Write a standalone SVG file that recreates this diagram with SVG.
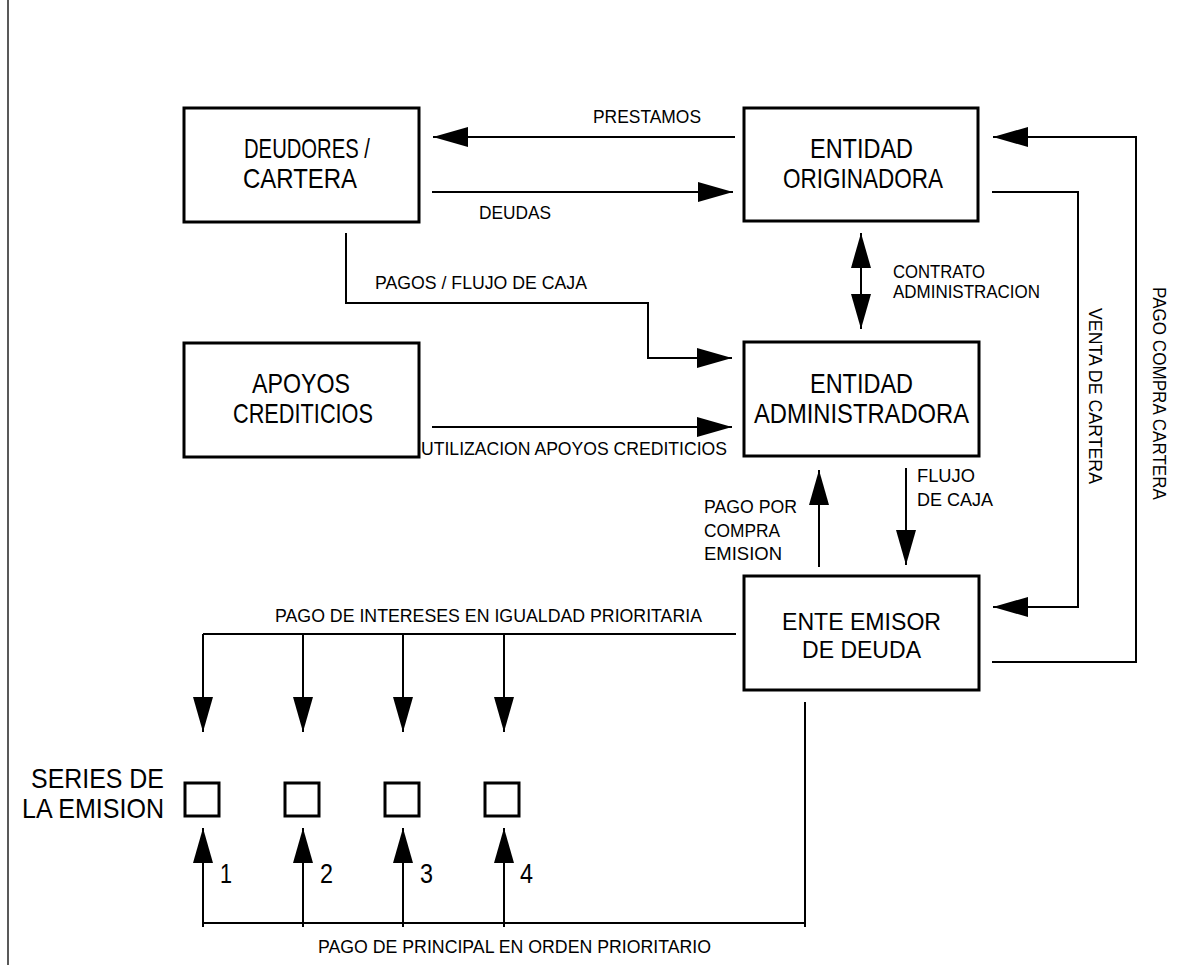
<svg xmlns="http://www.w3.org/2000/svg" width="1182" height="965" viewBox="0 0 1182 965">
<style>
.box{fill:#fff;stroke:#000;stroke-width:3}
.ln{fill:none;stroke:#000;stroke-width:2}
.arr{marker-end:url(#ah)}
text{font-family:"Liberation Sans",Arial,sans-serif;fill:#000}
.big{font-size:28px}
.mid{font-size:24px}
.sm{font-size:18px}
</style>
<defs>
<marker id="ah" markerUnits="userSpaceOnUse" markerWidth="36" markerHeight="22" refX="35" refY="10" orient="auto-start-reverse">
<path d="M0,0 L35,10 L0,20 Z" fill="#000"/>
</marker>
</defs>
<rect width="1182" height="965" fill="#fff"/>
<line x1="8" y1="0" x2="8" y2="965" stroke="#222" stroke-width="1.5"/>

<g id="connectors">
<path class="ln arr" d="M735,137 H433"/>
<path class="ln arr" d="M432,192 H733"/>
<path class="ln arr" d="M346,233 V303 H648 V358 H732"/>
<path class="ln arr" d="M432,427 H732"/>
<path class="ln arr" d="M861,233 V329" marker-start="url(#ah)"/>
<path class="ln arr" d="M819,567 V470"/>
<path class="ln arr" d="M906,468 V565"/>
<path class="ln arr" d="M992,662 H1136 V137 H993"/>
<path class="ln arr" d="M992,192 H1078 V607 H993"/>
<path class="ln" d="M736,634 H203"/>
<path class="ln arr" d="M203,634 V732"/>
<path class="ln arr" d="M303,634 V732"/>
<path class="ln arr" d="M403,634 V732"/>
<path class="ln arr" d="M504,634 V732"/>
<path class="ln" d="M805,702 V927 M805,923 H203"/>
<path class="ln arr" d="M203,927 V828"/>
<path class="ln arr" d="M303,927 V828"/>
<path class="ln arr" d="M403,927 V828"/>
<path class="ln arr" d="M504,927 V828"/>
</g>

<g id="labels">
<text class="sm" x="593" y="123" textLength="108" lengthAdjust="spacingAndGlyphs">PRESTAMOS</text>
<text class="sm" x="479" y="219" textLength="72" lengthAdjust="spacingAndGlyphs">DEUDAS</text>
<text class="sm" x="375" y="289" textLength="212" lengthAdjust="spacingAndGlyphs">PAGOS / FLUJO DE CAJA</text>
<text class="sm" x="893" y="278" textLength="92" lengthAdjust="spacingAndGlyphs">CONTRATO</text>
<text class="sm" x="893" y="298" textLength="147" lengthAdjust="spacingAndGlyphs">ADMINISTRACION</text>
<text class="sm" x="421" y="455" textLength="306" lengthAdjust="spacingAndGlyphs">UTILIZACION APOYOS CREDITICIOS</text>
<text class="sm" x="917" y="482" textLength="58" lengthAdjust="spacingAndGlyphs">FLUJO</text>
<text class="sm" x="917" y="506" textLength="76" lengthAdjust="spacingAndGlyphs">DE CAJA</text>
<text class="sm" x="704" y="513" textLength="93" lengthAdjust="spacingAndGlyphs">PAGO POR</text>
<text class="sm" x="704" y="537" textLength="76" lengthAdjust="spacingAndGlyphs">COMPRA</text>
<text class="sm" x="704" y="560" textLength="78" lengthAdjust="spacingAndGlyphs">EMISION</text>
<text class="sm" x="275" y="622" textLength="427" lengthAdjust="spacingAndGlyphs">PAGO DE INTERESES EN IGUALDAD PRIORITARIA</text>
<text class="sm" x="318" y="953" textLength="393" lengthAdjust="spacingAndGlyphs">PAGO DE PRINCIPAL EN ORDEN PRIORITARIO</text>
<text class="sm" transform="translate(1089,308) rotate(90)" textLength="176" lengthAdjust="spacingAndGlyphs">VENTA DE CARTERA</text>
<text class="sm" transform="translate(1153,287) rotate(90)" textLength="213" lengthAdjust="spacingAndGlyphs">PAGO COMPRA CARTERA</text>
<text class="big" x="220" y="883" textLength="12" lengthAdjust="spacingAndGlyphs">1</text>
<text class="big" x="320" y="883" textLength="13" lengthAdjust="spacingAndGlyphs">2</text>
<text class="big" x="420" y="883" textLength="13" lengthAdjust="spacingAndGlyphs">3</text>
<text class="big" x="520" y="883" textLength="13" lengthAdjust="spacingAndGlyphs">4</text>
<text class="big" x="164" y="788" text-anchor="end" textLength="133" lengthAdjust="spacingAndGlyphs">SERIES DE</text>
<text class="big" x="164" y="818" text-anchor="end" textLength="142" lengthAdjust="spacingAndGlyphs">LA EMISION</text>
</g>

<g id="deudores">
<rect class="box" x="184" y="108" width="235" height="114"/>
<text class="big" x="244" y="158" textLength="126" lengthAdjust="spacingAndGlyphs">DEUDORES /</text>
<text class="big" x="243" y="188" textLength="114" lengthAdjust="spacingAndGlyphs">CARTERA</text>
</g>
<g id="originadora">
<rect class="box" x="744" y="108" width="234" height="113"/>
<text class="big" x="810" y="158" textLength="103" lengthAdjust="spacingAndGlyphs">ENTIDAD</text>
<text class="big" x="783" y="188" textLength="160" lengthAdjust="spacingAndGlyphs">ORIGINADORA</text>
</g>
<g id="apoyos">
<rect class="box" x="184" y="343" width="235" height="114"/>
<text class="big" x="252" y="393" textLength="98" lengthAdjust="spacingAndGlyphs">APOYOS</text>
<text class="big" x="233" y="423" textLength="140" lengthAdjust="spacingAndGlyphs">CREDITICIOS</text>
</g>
<g id="administradora">
<rect class="box" x="744" y="342" width="235" height="114"/>
<text class="big" x="810" y="393" textLength="103" lengthAdjust="spacingAndGlyphs">ENTIDAD</text>
<text class="big" x="754" y="423" textLength="215" lengthAdjust="spacingAndGlyphs">ADMINISTRADORA</text>
</g>
<g id="emisor">
<rect class="box" x="744" y="576" width="235" height="114"/>
<text class="mid" x="782" y="630" textLength="159" lengthAdjust="spacingAndGlyphs">ENTE EMISOR</text>
<text class="mid" x="802" y="658" textLength="119" lengthAdjust="spacingAndGlyphs">DE DEUDA</text>
</g>
<g id="series">
<rect class="box" x="185" y="783" width="34" height="33"/>
<rect class="box" x="285" y="783" width="34" height="33"/>
<rect class="box" x="385" y="783" width="34" height="33"/>
<rect class="box" x="485" y="783" width="34" height="33"/>
</g>
</svg>
